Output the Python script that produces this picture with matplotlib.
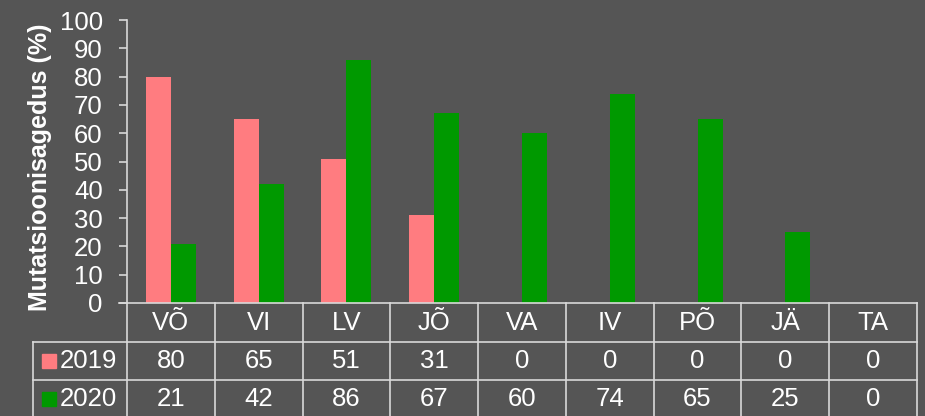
import numpy as np
import matplotlib.pyplot as plt

categories = ["VÕ", "VI", "LV", "JÕ", "VA", "IV", "PÕ", "JÄ", "TA"]
series_names = ["2019", "2020"]
values_2019 = [80, 65, 51, 31, 0, 0, 0, 0, 0]
values_2020 = [21, 42, 86, 67, 60, 74, 65, 25, 0]
y_ticks = list(range(0, 101, 10))

bg = "#555555"
line_col = "#D9D9D9"
colors = ["#FF7C80", "#009900"]

plt.rcParams["font.family"] = ["Liberation Sans", "DejaVu Sans"]

fig = plt.figure(figsize=(9.25, 4.16), dpi=100, facecolor=bg)
ax = fig.add_axes([127 / 925, (416 - 303) / 416, 790 / 925, 283 / 416])
ax.set_facecolor(bg)

x = np.arange(len(categories))
w = 0.285
ax.bar(x - w / 2, values_2019, width=w, color=colors[0])
ax.bar(x + w / 2, values_2020, width=w, color=colors[1])

ax.set_xlim(-0.5, len(categories) - 0.5)
ax.set_ylim(0, 100)
ax.set_yticks(y_ticks)
ax.tick_params(axis="y", colors=line_col, labelcolor="white", labelsize=18.5,
               length=6, width=1.2, direction="out", pad=11.5)
ax.set_xticks([])
for side in ["top", "right", "bottom"]:
    ax.spines[side].set_visible(False)
ax.spines["left"].set_color(line_col)
ax.spines["left"].set_linewidth(1.2)

fig.text(40 / 925, 1 - 167 / 416, "Mutatsioonisagedus (%)", rotation=90,
         ha="center", va="center", color="white", fontsize=18, fontweight="bold")

# data table under the axis
tr = ax.get_xaxis_transform()
row_h = [39 / 283, 38 / 283, 38 / 283]
y_rows = [0, -row_h[0], -row_h[0] - row_h[1], -sum(row_h)]
lw = 1.2
left = -0.5
right = len(categories) - 0.5
x_leg = left - 94 / 87.8
# horizontal lines
ax.plot([left - 8 / 87.8, right], [0, 0], transform=tr, color=line_col, lw=lw, clip_on=False)
for yy in y_rows[1:3]:
    ax.plot([x_leg, right], [yy, yy], transform=tr, color=line_col, lw=lw, clip_on=False)
# vertical lines
for xx in np.arange(len(categories) + 1) - 0.5:
    ax.plot([xx, xx], [0, y_rows[3]], transform=tr, color=line_col, lw=lw, clip_on=False)
ax.plot([x_leg, x_leg], [y_rows[1], y_rows[3]], transform=tr, color=line_col, lw=lw, clip_on=False)

fs = 18.5
for i, cat in enumerate(categories):
    ax.text(i, (y_rows[0] + y_rows[1]) / 2, cat, transform=tr, ha="center", va="center",
            color="white", fontsize=fs)
    ax.text(i, (y_rows[1] + y_rows[2]) / 2, str(values_2019[i]), transform=tr, ha="center",
            va="center", color="white", fontsize=fs)
    ax.text(i, (y_rows[2] + y_rows[3]) / 2, str(values_2020[i]), transform=tr, ha="center",
            va="center", color="white", fontsize=fs)

for k, (name, c) in enumerate(zip(series_names, colors)):
    yc = (y_rows[k + 1] + y_rows[k + 2]) / 2
    ax.plot([x_leg + 16 / 87.8], [yc], transform=tr, marker="s", markersize=10,
            color=c, clip_on=False, linestyle="none")
    ax.text(x_leg + 27 / 87.8, yc, name, transform=tr, ha="left", va="center",
            color="white", fontsize=fs)

fig.savefig("out.png", dpi=100, facecolor=bg)
